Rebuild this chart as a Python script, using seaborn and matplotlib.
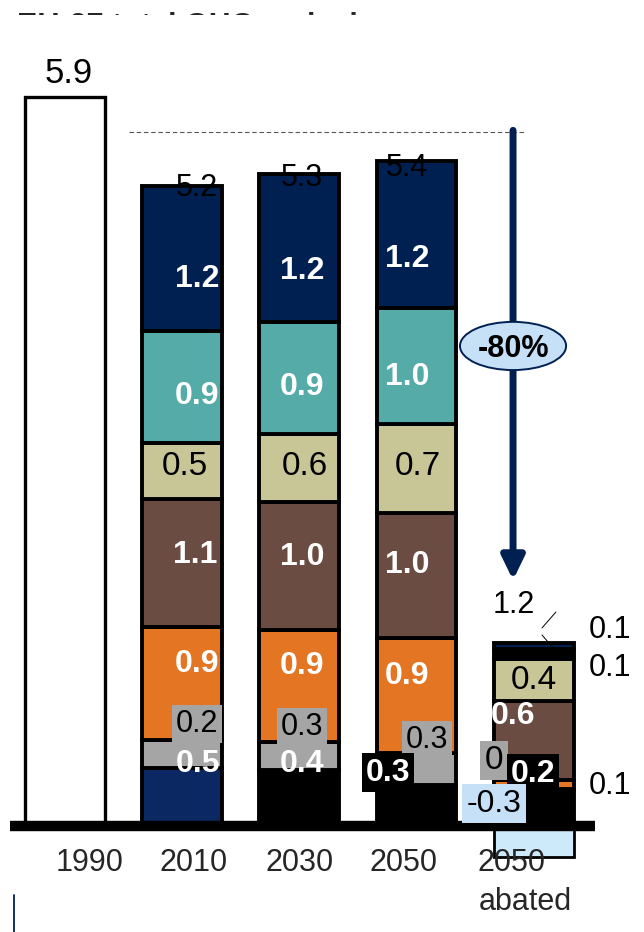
import numpy as np
import pandas as pd
import matplotlib
matplotlib.use("Agg")
import matplotlib.pyplot as plt
import seaborn as sns
from matplotlib.patches import Ellipse, Rectangle

# ---------------- data ----------------
periods = ["1990", "2010", "2030", "2050", "2050 abated"]
stack_periods = ["2010", "2030", "2050", "2050 abated"]
value_1990 = [5.9]

# stacked segments (bottom -> top), GtCO2e
base_navy = [0.47, 0.0, 0.0, 0.0]
base_black = [0.0, 0.45, 0.33, 0.30]
grey_seg = [0.23, 0.23, 0.26, 0.0]
orange_seg = [0.91, 0.91, 0.93, 0.07]
brown_seg = [1.04, 1.03, 1.01, 0.64]
khaki_seg = [0.45, 0.55, 0.72, 0.34]
teal_seg = [0.91, 0.91, 0.94, 0.0]
black_seg = [0.0, 0.0, 0.0, 0.08]
navy_seg = [1.17, 1.20, 1.19, 0.05]
negative_seg = [0.0, 0.0, 0.0, -0.25]

# printed labels
total_labels = ["5.9", "5.2", "5.3", "5.4", "1.2"]
navy_labels = ["1.2", "1.2", "1.2"]
teal_labels = ["0.9", "0.9", "1.0"]
khaki_labels = ["0.5", "0.6", "0.7", "0.4"]
brown_labels = ["1.1", "1.0", "1.0", "0.6"]
orange_labels = ["0.9", "0.9", "0.9"]
grey_labels = ["0.2", "0.3", "0.3", "0"]
base_labels = ["0.5", "0.4", "0.3", "0.2"]
negative_label = "-0.3"
side_labels = ["0.1", "0.1", "0.1"]
reduction_label = "-80%"
title = "EU-27 total GHG emissions"
line_1990 = 5.62
arrow_end = 1.99

# ---------------- style ----------------
NAVY = "#002052"
C_BASE_NAVY = "#0b2862"
C_GREY = "#a5a5a5"
C_ORANGE = "#e47522"
C_BROWN = "#6b4c42"
C_KHAKI = "#c8c596"
C_TEAL = "#55aba7"
C_NEG = "#cdeafa"
C_LBLUE = "#c6e0f8"
BAR_W = 0.68
EDGE = 2.8
WB = 23  # white bold label size

sns.set_style("white")
plt.rcParams["font.family"] = ["Liberation Sans", "DejaVu Sans"]

fig = plt.figure(figsize=(6.44, 9.32), dpi=100)
ax = fig.add_axes([0, 0, 1, 1])

# 1990 bar
d90 = pd.DataFrame({"period": ["1990"], "value": value_1990})
sns.barplot(data=d90, x="period", y="value", order=periods, color="white",
            saturation=1, width=BAR_W, edgecolor="black", linewidth=2.4,
            errorbar=None, ax=ax, zorder=2)

layers = [
    (base_navy, C_BASE_NAVY),
    (base_black, "black"),
    (grey_seg, C_GREY),
    (orange_seg, C_ORANGE),
    (brown_seg, C_BROWN),
    (khaki_seg, C_KHAKI),
    (teal_seg, C_TEAL),
    (black_seg, "black"),
    (navy_seg, NAVY),
]
cum = np.zeros(len(stack_periods))
for vals, col in layers:
    v = np.array(vals, dtype=float)
    m = v != 0
    d = pd.DataFrame({"period": np.array(stack_periods)[m], "value": v[m]})
    sns.barplot(data=d, x="period", y="value", order=periods, color=col,
                saturation=1, width=BAR_W, edgecolor="black", linewidth=EDGE,
                errorbar=None, bottom=cum[m], ax=ax, zorder=2)
    cum += v

vneg = np.array(negative_seg)
mneg = vneg != 0
dneg = pd.DataFrame({"period": np.array(stack_periods)[mneg], "value": vneg[mneg]})
sns.barplot(data=dneg, x="period", y="value", order=periods, color=C_NEG,
            saturation=1, width=BAR_W, edgecolor="black", linewidth=2.0,
            errorbar=None, ax=ax, zorder=2)

# baseline
ax.plot([-0.467, 4.522], [0, 0], color="black", lw=7.5, solid_capstyle="butt", zorder=4)

# dashed reference line & arrow
ax.plot([0.55, 3.92], [line_1990, line_1990], color="#555555", lw=0.8,
        dashes=(4, 2.5), zorder=3)
ax.annotate("", xy=(3.823, arrow_end), xytext=(3.823, line_1990 + 0.01),
            arrowprops=dict(arrowstyle="-|>,head_width=6.8,head_length=14",
                            mutation_scale=1, lw=5, color=NAVY,
                            shrinkA=0, shrinkB=0), zorder=5)
ax.add_patch(Ellipse((3.823, 3.885), 0.905, 0.39, facecolor=C_LBLUE,
                     edgecolor=NAVY, lw=1.4, zorder=6))
ax.text(3.823, 3.885, reduction_label, ha="center", va="center_baseline",
        fontsize=22, fontweight="bold", color="black", zorder=7)


def lab(x, y, s, size=22, color="black", weight="normal", box=None):
    kw = {}
    if box is not None:
        kw["bbox"] = dict(boxstyle="square,pad=0.13", fc=box, ec="none")
    ax.text(x, y, s, ha="center", va="center_baseline", fontsize=size,
            color=color, fontweight=weight, zorder=8, **kw)


# totals
tot_pos = [(0.036, 6.118, 25), (1.128, 5.188, 22), (2.023, 5.269, 22),
           (2.919, 5.350, 22), (3.831, 1.813, 22)]
for s, (x, y, fs) in zip(total_labels, tot_pos):
    lab(x, y, s, size=fs)

navy_pos = [(1.128, 4.459), (2.023, 4.524), (2.919, 4.621)]
for s, (x, y) in zip(navy_labels, navy_pos):
    lab(x, y, s, size=WB, color="white", weight="bold")
teal_pos = [(1.128, 3.512), (2.023, 3.585), (2.919, 3.666)]
for s, (x, y) in zip(teal_labels, teal_pos):
    lab(x, y, s, size=WB, color="white", weight="bold")
khaki_pos = [(1.026, 2.938), (2.049, 2.938), (3.012, 2.938), (4.002, 1.206)]
for s, (x, y) in zip(khaki_labels, khaki_pos):
    lab(x, y, s, size=24)
brown_pos = [(1.11, 2.218), (2.023, 2.209), (2.919, 2.137), (3.823, 0.915)]
for s, (x, y) in zip(brown_labels, brown_pos):
    lab(x, y, s, size=WB, color="white", weight="bold")
orange_pos = [(1.128, 1.343), (2.023, 1.327), (2.919, 1.246)]
for s, (x, y) in zip(orange_labels, orange_pos):
    lab(x, y, s, size=WB, color="white", weight="bold")
grey_pos = [(1.128, 0.850, 22), (2.023, 0.826, 22), (3.089, 0.728, 22), (3.661, 0.558, 24)]
for s, (x, y, fs) in zip(grey_labels, grey_pos):
    lab(x, y, s, size=fs, box=C_GREY)
base_pos = [(1.136, 0.534, None), (2.023, 0.534, None), (2.756, 0.461, "black"),
            (3.993, 0.453, "black")]
for s, (x, y, b) in zip(base_labels, base_pos):
    lab(x, y, s, size=WB, color="white", weight="bold", box=b)
lab(3.661, 0.21, negative_label, size=23, box=C_LBLUE)
side_pos = [(4.65, 1.611), (4.65, 1.303), (4.65, 0.348)]
for s, (x, y) in zip(side_labels, side_pos):
    lab(x, y, s, size=22)

# leader lines
ax.plot([4.189, 4.07], [1.732, 1.603], color="black", lw=0.7, zorder=8)
ax.plot([4.07, 4.181], [1.546, 1.424], color="black", lw=0.7, zorder=8)

# category labels
tick_pos = [(0.215, -0.275), (1.102, -0.275), (2.006, -0.275), (2.893, -0.275)]
for s, (x, y) in zip(periods[:4], tick_pos):
    ax.text(x, y, s, ha="center", va="center_baseline", fontsize=22, zorder=8)
p1, p2 = periods[4].split(" ")
ax.text(3.806, -0.275, p1, ha="center", va="center_baseline", fontsize=22, zorder=8)
ax.text(3.925, -0.583, p2, ha="center", va="center_baseline", fontsize=22, zorder=8)

# small navy mark bottom-left
ax.plot([-0.433, -0.433], [-0.558, -0.87], color=NAVY, lw=1.3, zorder=8)

ax.set_xlim(-0.5527, 4.940)
ax.set_ylim(-0.8579, 6.685)
ax.axis("off")

# cropped title
fig.text(17 / 644, 1 - 35 / 932, title, fontsize=22, fontweight="bold",
         ha="left", va="baseline", zorder=3)
fig.patches.append(Rectangle((0, 1 - 56 / 932), 1, 41 / 932, transform=fig.transFigure,
                             facecolor="white", edgecolor="none", zorder=10))

fig.savefig("out.png", dpi=100, facecolor="white")
